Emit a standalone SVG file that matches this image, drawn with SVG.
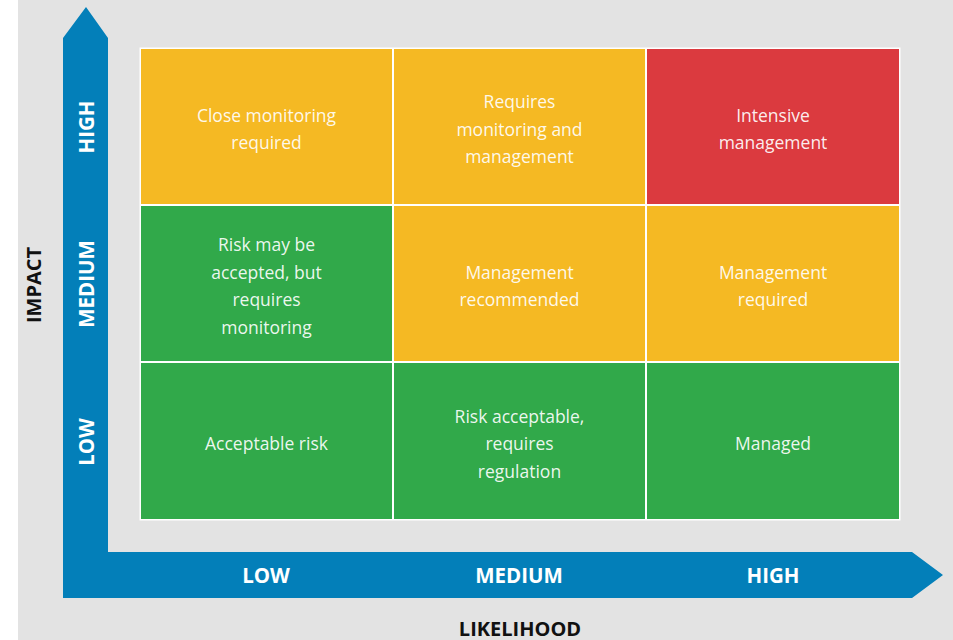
<svg xmlns="http://www.w3.org/2000/svg" width="953" height="640" viewBox="0 0 953 640">
  <style>
    .cell-text { font-family: "Open Sans", "Noto Sans", sans-serif; font-size: 17.5px; fill: #ffffff; fill-opacity: 0.92; text-anchor: middle; }
    .axis-tick { font-family: "Open Sans", "Noto Sans", sans-serif; font-size: 20.5px; font-weight: bold; fill: #ffffff; text-anchor: middle; }
    .axis-title { font-family: "Open Sans", "Noto Sans", sans-serif; font-size: 20px; font-weight: bold; fill: #111111; text-anchor: middle; }
    .low { fill: #31a94a; }
    .mid { fill: #f5b923; }
    .high { fill: #db3a3f; }
  </style>

  <!-- backdrop -->
  <rect x="0" y="0" width="953" height="640" fill="#ffffff"/>
  <rect x="18" y="0" width="935" height="640" fill="#e3e3e3"/>

  <!-- axes: one L-shaped double arrow -->
  <g id="axes">
    <path d="M63,598 V38 L86,7 L108,38 V552 H912 L943,575 L912,598 Z" fill="#037fb9"/>
    <g id="impact-ticks">
      <text class="axis-tick" transform="translate(93.5,127) rotate(-90)">HIGH</text>
      <text class="axis-tick" transform="translate(93.5,284) rotate(-90)">MEDIUM</text>
      <text class="axis-tick" transform="translate(93.5,442) rotate(-90)">LOW</text>
    </g>
    <g id="likelihood-ticks">
      <text class="axis-tick" x="266" y="583">LOW</text>
      <text class="axis-tick" x="519" y="583">MEDIUM</text>
      <text class="axis-tick" x="773" y="583">HIGH</text>
    </g>
    <text id="impact-title" class="axis-title" transform="translate(40.5,285) rotate(-90)">IMPACT</text>
    <text id="likelihood-title" class="axis-title" x="520" y="636">LIKELIHOOD</text>
  </g>

  <!-- matrix frame -->
  <rect x="139.5" y="47.5" width="761" height="473" fill="#ffffff"/>

  <!-- row: high impact -->
  <g id="cell-high-low">
    <rect class="mid" x="141" y="49" width="251" height="155"/>
    <text class="cell-text" x="266.5" y="121.5">Close monitoring</text>
    <text class="cell-text" x="266.5" y="149">required</text>
  </g>
  <g id="cell-high-medium">
    <rect class="mid" x="394" y="49" width="251" height="155"/>
    <text class="cell-text" x="519.5" y="108">Requires</text>
    <text class="cell-text" x="519.5" y="135.5">monitoring and</text>
    <text class="cell-text" x="519.5" y="163">management</text>
  </g>
  <g id="cell-high-high">
    <rect class="high" x="647" y="49" width="252" height="155"/>
    <text class="cell-text" x="773" y="121.5">Intensive</text>
    <text class="cell-text" x="773" y="149">management</text>
  </g>

  <!-- row: medium impact -->
  <g id="cell-medium-low">
    <rect class="low" x="141" y="206" width="251" height="155"/>
    <text class="cell-text" x="266.5" y="251">Risk may be</text>
    <text class="cell-text" x="266.5" y="278.5">accepted, but</text>
    <text class="cell-text" x="266.5" y="306">requires</text>
    <text class="cell-text" x="266.5" y="333.5">monitoring</text>
  </g>
  <g id="cell-medium-medium">
    <rect class="mid" x="394" y="206" width="251" height="155"/>
    <text class="cell-text" x="519.5" y="278.5">Management</text>
    <text class="cell-text" x="519.5" y="306">recommended</text>
  </g>
  <g id="cell-medium-high">
    <rect class="mid" x="647" y="206" width="252" height="155"/>
    <text class="cell-text" x="773" y="278.5">Management</text>
    <text class="cell-text" x="773" y="306">required</text>
  </g>

  <!-- row: low impact -->
  <g id="cell-low-low">
    <rect class="low" x="141" y="363" width="251" height="156"/>
    <text class="cell-text" x="266.5" y="450">Acceptable risk</text>
  </g>
  <g id="cell-low-medium">
    <rect class="low" x="394" y="363" width="251" height="156"/>
    <text class="cell-text" x="519.5" y="422.5">Risk acceptable,</text>
    <text class="cell-text" x="519.5" y="450">requires</text>
    <text class="cell-text" x="519.5" y="477.5">regulation</text>
  </g>
  <g id="cell-low-high">
    <rect class="low" x="647" y="363" width="252" height="156"/>
    <text class="cell-text" x="773" y="450">Managed</text>
  </g>

  <!-- no connectors in this chart -->
  <g id="connectors"/>
</svg>
